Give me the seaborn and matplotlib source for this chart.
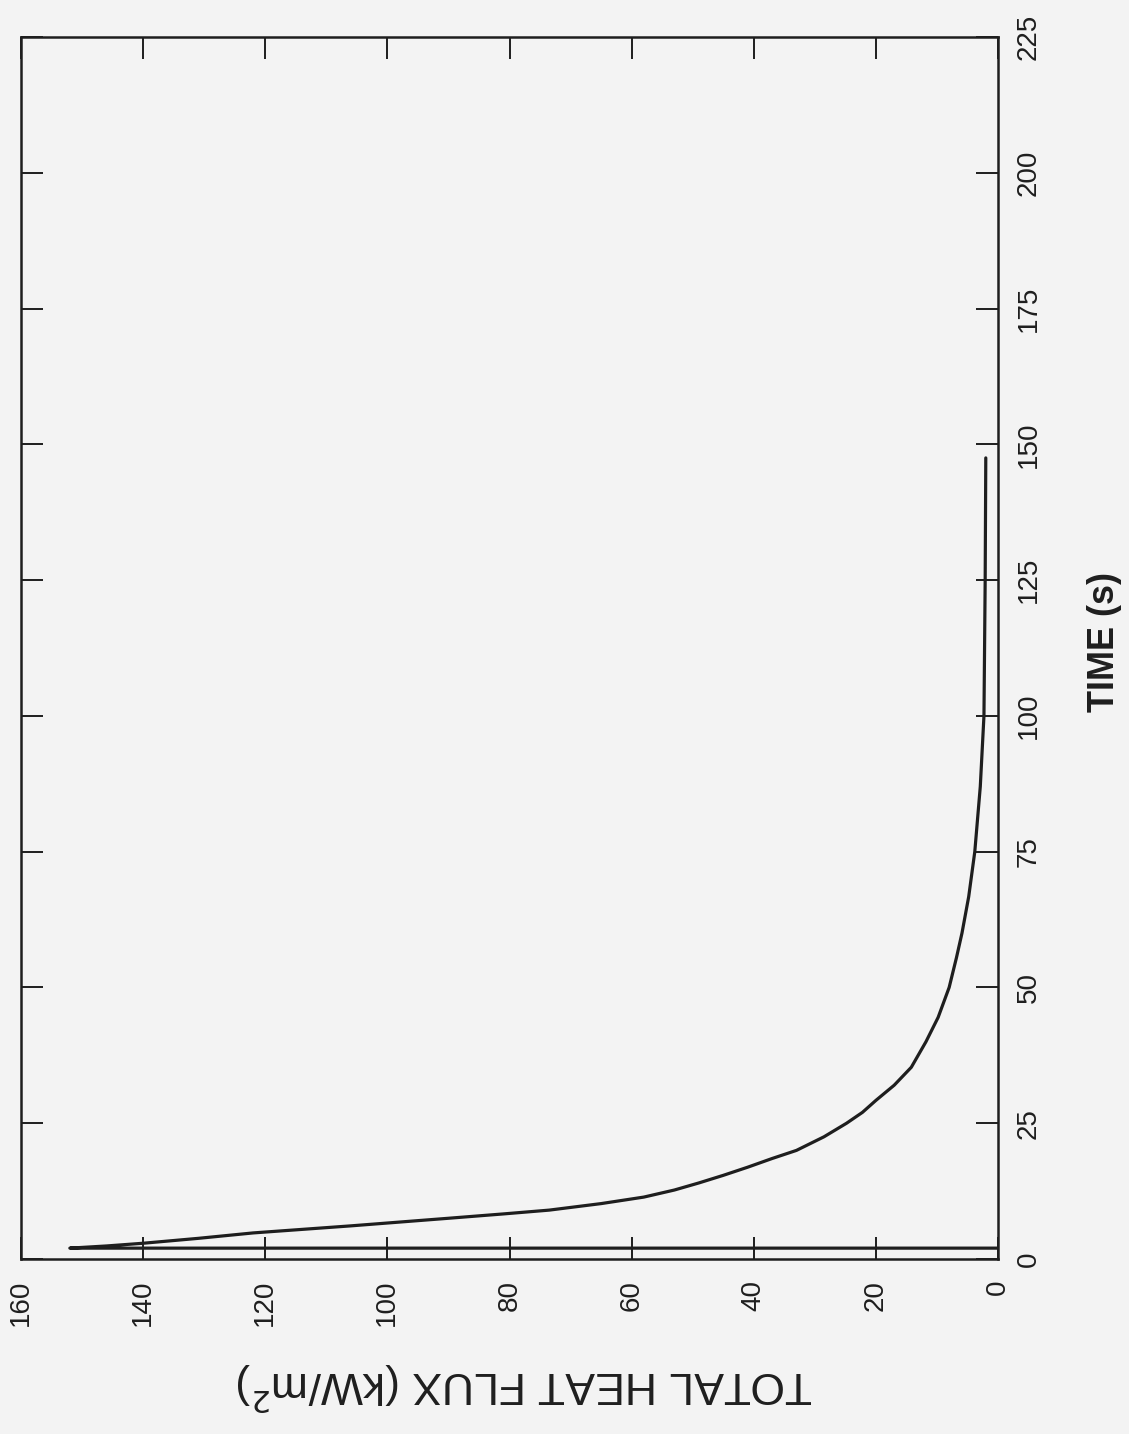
import numpy as np
import pandas as pd
import matplotlib.pyplot as plt
import seaborn as sns

# curve: time (s) vs total heat flux (kW/m^2)
time_s = [2.0, 2.0, 2.4, 2.9, 3.8, 4.8, 6.1, 7.5, 8.3, 9.0, 10.2, 11.4,
          12.7, 14.0, 15.4, 16.9, 18.5, 20.0, 22.5, 25.0, 27.0, 29.2, 32.0,
          35.3, 40.0, 44.5, 50.0, 55.5, 60.0, 66.7, 75.0, 87.0, 100.0,
          125.0, 147.5]
heat_flux = [0.0, 152.0, 146.0, 140.0, 131.0, 122.0, 106.0, 90.0, 81.0,
             73.5, 65.0, 58.0, 53.0, 49.0, 45.0, 41.0, 37.0, 33.0, 28.5,
             24.8, 22.2, 20.0, 17.0, 14.2, 11.8, 9.8, 8.0, 6.8, 5.9, 4.8,
             3.8, 2.9, 2.3, 2.1, 2.0]

flux_ticks = [0, 20, 40, 60, 80, 100, 120, 140, 160]
time_ticks = [0, 25, 50, 75, 100, 125, 150, 175, 200, 225]

df = pd.DataFrame({"time": time_s, "flux": heat_flux})

sns.set_style("ticks")
plt.rcParams["font.family"] = ["Liberation Sans", "DejaVu Sans"]

paper = "#f3f3f3"
ink = "#1e1e1e"

fig = plt.figure(figsize=(11.29, 14.34), dpi=100, facecolor=paper)
ax = fig.add_axes([21 / 1129, 1 - 1259 / 1434, 977 / 1129, 1222 / 1434])
ax.set_facecolor(paper)

# the page is turned: flux runs right-to-left along the bottom, time upward on the right
sns.lineplot(data=df, x="flux", y="time", sort=False, estimator=None,
             color=ink, linewidth=2.3, ax=ax)

ax.set_xlim(160, 0)
ax.set_ylim(0, 225)
ax.set_xticks(flux_ticks)
ax.set_yticks(time_ticks)
ax.set_xticklabels([str(v) for v in flux_ticks])
ax.set_yticklabels([str(v) for v in time_ticks])

for s in ax.spines.values():
    s.set_color(ink)
    s.set_linewidth(1.8)

ax.tick_params(axis="x", bottom=True, top=True, direction="in", length=16,
               width=1.4, color=ink, pad=15, labelsize=20, labelrotation=90,
               labelcolor=ink)
ax.tick_params(axis="y", left=True, right=True, labelleft=False,
               labelright=True, direction="in", length=16, width=1.4,
               color=ink, pad=13, labelsize=20, labelrotation=90,
               labelcolor=ink)
for t in ax.get_yticklabels():
    t.set_va("center")

ax.set_xlabel("TOTAL HEAT FLUX (kW/m$^2$)", rotation=180, fontsize=32,
              color=ink, labelpad=24)
ax.xaxis.label.set_x(0.515)
ax.yaxis.set_label_position("right")
ax.set_ylabel("TIME (s)", rotation=90, fontsize=26, fontweight="bold",
              color=ink, labelpad=32)
ax.yaxis.label.set_y(0.505)

fig.savefig("out.png", dpi=100, facecolor=paper)
